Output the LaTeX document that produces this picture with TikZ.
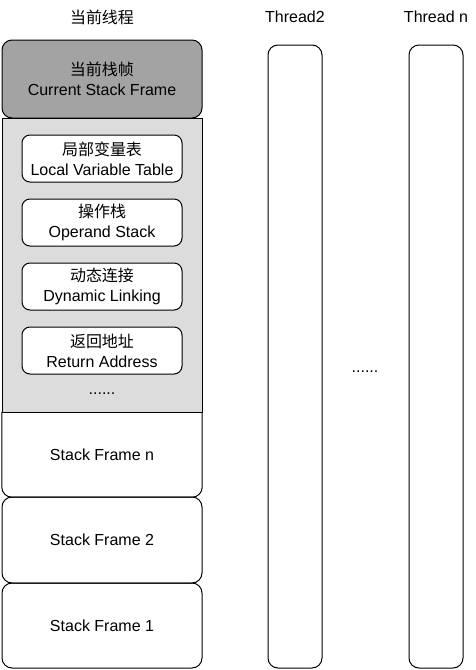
\documentclass[tikz,border=0pt]{standalone}
\usepackage{fontspec}
\setmainfont{Liberation Sans}
\newfontfamily\cjk{Noto Sans CJK SC}
\usepackage{tikz}

\begin{document}
\begin{tikzpicture}[x=1pt,y=-1pt]
\tikzset{frame/.style = {draw,line width=1pt,rounded corners=10pt,inner sep=0pt,minimum width=200pt,align=center}}
\tikzset{slot/.style = {draw,line width=1pt,rounded corners=8pt,fill=white,inner sep=0pt,minimum width=160pt,minimum height=47pt,align=center}}
\tikzset{thread/.style = {draw,line width=1pt,rounded corners=10pt,inner sep=0pt,minimum width=54pt,minimum height=623pt}}
\tikzset{every node/.style = {font=\fontsize{16}{20}\selectfont}}
\definecolor{darkgray}{RGB}{163,163,163}
\definecolor{lightgray}{RGB}{220,220,220}
\useasboundingbox (0,0) rectangle (475,670);

% titles
\node (title1) at (102,17) {\cjk 当前线程};
\node (title2) at (295,17) {Thread2};
\node (titlen) at (436,17) {Thread n};

% current frame
\node[draw,line width=1pt,fill=lightgray,minimum width=200pt,minimum height=294pt,inner sep=0pt] (area) at (102,265) {};
\node[frame,fill=darkgray,minimum height=78pt] (cur) at (102,79) {{\cjk 当前栈帧}\\Current Stack Frame};
\node[slot] (lvt) at (102,158.5) {{\cjk 局部变量表}\\Local Variable Table};
\node[slot] (ops) at (102,222.5) {{\cjk 操作栈}\\Operand Stack};
\node[slot] (dyn) at (102,286.5) {{\cjk 动态连接}\\Dynamic Linking};
\node[slot] (ret) at (102,350.5) {{\cjk 返回地址}\\Return Address};
\node (dots1) at (102,394) {......};

% other frames
\node[minimum width=200pt,minimum height=85pt,inner sep=0pt] (sfn) at (102,454.5) {Stack Frame n};
\draw[line width=1pt,rounded corners=10pt] (sfn.north west) -- (sfn.south west) -- (sfn.south east) -- (sfn.north east);
\node[frame,minimum height=86pt] (sf2) at (102,540) {Stack Frame 2};
\node[frame,minimum height=85pt] (sf1) at (102,625.5) {Stack Frame 1};

% threads
\node[thread] (t2) at (295,356.5) {};
\node[thread] (tn) at (436,356.5) {};
\node (dots2) at (365,372) {......};

\end{tikzpicture}
\end{document}
